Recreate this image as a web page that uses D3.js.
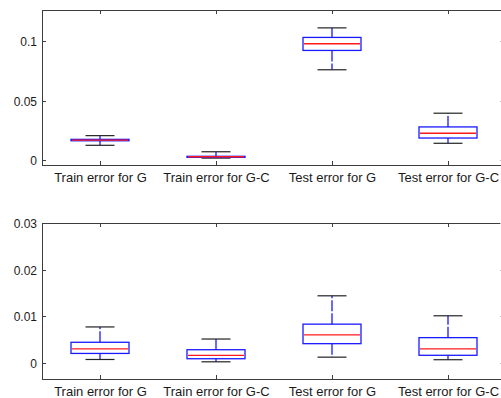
<!DOCTYPE html>
<meta charset="utf-8">
<style>
  body { margin: 0; background: #fff; }
  text { font-family: "Liberation Sans", Arial, sans-serif; fill: #1a1a1a; }
</style>
<script src="https://d3js.org/d3.v7.min.js"></script>
<div id="viz"></div>
<script>
// categories on the x axis
var categories = ["Train error for G", "Train error for G-C", "Test error for G", "Test error for G-C"];

// top panel: box stats per category
var topLower  = [0.0126, 0.0019, 0.0759, 0.0143];
var topQ1     = [0.0164, 0.0025, 0.0921, 0.0187];
var topMedian = [0.0170, 0.0030, 0.0977, 0.0227];
var topQ3     = [0.0176, 0.0034, 0.1030, 0.0280];
var topUpper  = [0.0207, 0.0072, 0.1110, 0.0395];
var topTicks  = [0, 0.05, 0.1];
var topTickLabels = ["0", "0.05", "0.1"];

// bottom panel
var botLower  = [0.0007, 0.0002, 0.0012, 0.00065];
var botQ1     = [0.0020, 0.00086, 0.0041, 0.0016];
var botMedian = [0.0030, 0.0016, 0.0060, 0.0030];
var botQ3     = [0.0044, 0.0028, 0.0083, 0.0054];
var botUpper  = [0.0077, 0.0051, 0.0144, 0.0101];
var botTicks  = [0, 0.01, 0.02, 0.03];
var botTickLabels = ["0", "0.01", "0.02", "0.03"];

var width = 501, height = 398;

var svg = d3.select("#viz").append("svg")
  .attr("width", width)
  .attr("height", height);

var x = d3.scaleLinear()
  .domain([0.5, categories.length + 0.5])
  .range([42, 506]);

var blue = "#1a1aff";

function drawPanel(top, bottom, yLim, lower, q1, med, q3, upper, ticks, tickLabels) {
  var y = d3.scaleLinear().domain(yLim).range([bottom, top]);
  var g = svg.append("g");
  var boxW = 0.5, capW = 0.25, tickLen = 4;

  // frame
  g.append("rect")
    .attr("x", x(0.5) + 0.5).attr("y", Math.round(top) + 0.5)
    .attr("width", x(categories.length + 0.5) - x(0.5))
    .attr("height", Math.round(bottom) - Math.round(top))
    .attr("fill", "none").attr("stroke", "#3c3c3c").attr("stroke-width", 1);

  // y ticks (inward, both sides)
  ticks.forEach(function (t, i) {
    var yy = Math.round(y(t)) + 0.5;
    g.append("line").attr("x1", x(0.5)).attr("x2", x(0.5) + tickLen)
      .attr("y1", yy).attr("y2", yy).attr("stroke", "#3c3c3c");
    g.append("line").attr("x1", x(categories.length + 0.5) - tickLen - 2).attr("x2", x(categories.length + 0.5))
      .attr("y1", yy).attr("y2", yy).attr("stroke", "#bbb");
    g.append("text")
      .attr("x", x(0.5) - 5).attr("y", yy + 4)
      .attr("text-anchor", "end").attr("font-size", "12px")
      .text(tickLabels[i]);
  });

  // x ticks + labels
  categories.forEach(function (c, i) {
    var xx = Math.round(x(i + 1)) + 0.5;
    g.append("line").attr("x1", xx).attr("x2", xx)
      .attr("y1", Math.round(bottom)).attr("y2", Math.round(bottom) - tickLen).attr("stroke", "#3c3c3c");
    g.append("line").attr("x1", xx).attr("x2", xx)
      .attr("y1", Math.round(top)).attr("y2", Math.round(top) + tickLen).attr("stroke", "#3c3c3c");
    g.append("text")
      .attr("x", xx).attr("y", bottom + 17)
      .attr("text-anchor", "middle").attr("font-size", "13px")
      .text(c);
  });

  var boxes = g.selectAll(".box").data(categories).enter().append("g");

  // whiskers (dashed blue)
  [[q3, upper], [q1, lower]].forEach(function (pair) {
    boxes.append("line")
      .attr("x1", function (d, i) { return x(i + 1); })
      .attr("x2", function (d, i) { return x(i + 1); })
      .attr("y1", function (d, i) { return y(pair[0][i]); })
      .attr("y2", function (d, i) { return y(pair[1][i]); })
      .attr("stroke", blue).attr("stroke-width", 1.3).attr("stroke-dasharray", "11,2");
  });

  // caps (black)
  [upper, lower].forEach(function (arr) {
    boxes.append("line")
      .attr("x1", function (d, i) { return x(i + 1 - capW / 2); })
      .attr("x2", function (d, i) { return x(i + 1 + capW / 2); })
      .attr("y1", function (d, i) { return y(arr[i]); })
      .attr("y2", function (d, i) { return y(arr[i]); })
      .attr("stroke", "#222").attr("stroke-width", 1.2);
  });

  // box
  boxes.append("rect")
    .attr("x", function (d, i) { return x(i + 1 - boxW / 2); })
    .attr("y", function (d, i) { return y(q3[i]); })
    .attr("width", x(1 + boxW) - x(1))
    .attr("height", function (d, i) { return y(q1[i]) - y(q3[i]); })
    .attr("fill", "none").attr("stroke", blue).attr("stroke-width", 1.3);

  // median
  boxes.append("line")
    .attr("x1", function (d, i) { return x(i + 1 - boxW / 2) + 1; })
    .attr("x2", function (d, i) { return x(i + 1 + boxW / 2) - 1; })
    .attr("y1", function (d, i) { return y(med[i]); })
    .attr("y2", function (d, i) { return y(med[i]); })
    .attr("stroke", "#ff1a1a").attr("stroke-width", 1.3);
}

drawPanel(9.5, 165, [-0.0039, 0.1264], topLower, topQ1, topMedian, topQ3, topUpper, topTicks, topTickLabels);
drawPanel(223.3, 379, [-0.0035, 0.03], botLower, botQ1, botMedian, botQ3, botUpper, botTicks, botTickLabels);
</script>
